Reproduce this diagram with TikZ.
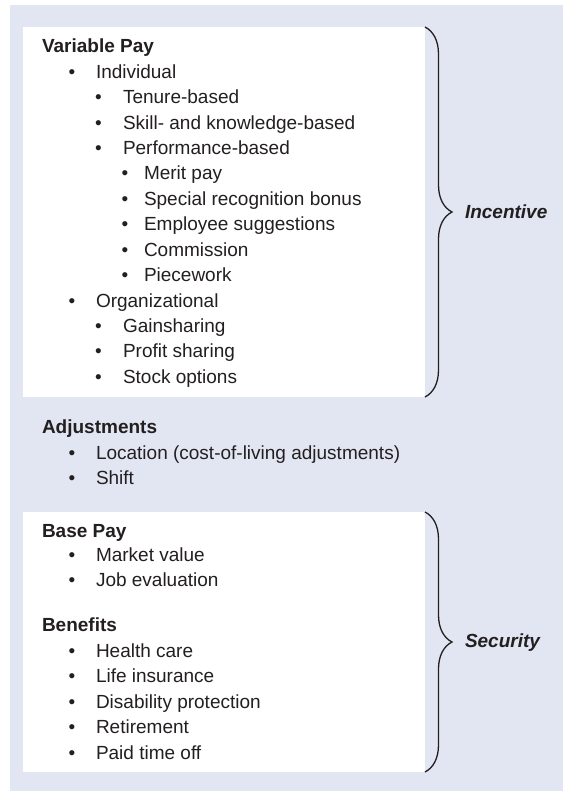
\documentclass[tikz,border=0pt]{standalone}
\usepackage{fontspec}
\setmainfont{Liberation Sans}
\usetikzlibrary{decorations.pathreplacing}
\definecolor{bgc}{HTML}{E2E6F3}
\definecolor{txt}{HTML}{231F20}
\newcommand\myentry[5]{%
  \node[bul] (#1b) at (#2,#4) {\textbullet};
  \node[itm] (#1) at (#3,#4) {#5};}
\begin{document}
\begin{tikzpicture}[x=0.5pt,y=-0.5pt,
  every node/.style={inner sep=0pt, outer sep=0pt, text=txt, font=\fontsize{9.5}{11}\selectfont},
  head/.style={anchor=base west, font=\fontsize{9.5}{11}\selectfont\bfseries},
  itm/.style={anchor=base west},
  bul/.style={anchor=base},
  tag/.style={anchor=west, font=\fontsize{9.5}{11}\selectfont\bfseries\itshape},
  panel/.style={fill=white, draw=none, minimum width=201pt},
  brc/.style={draw=txt, line width=0.65pt, decorate, decoration={brace, amplitude=13.5pt}}]
\useasboundingbox (0,0) rectangle (563,791);
\fill[bgc] (10,5) rectangle (563,791);
% panels
\node[panel, minimum height=185pt] (toppanel) at (224,212) {};
\node[panel, minimum height=130pt] (botpanel) at (224,642) {};
% braces
\draw[brc] (toppanel.north east) -- (toppanel.south east);
\draw[brc] (botpanel.north east) -- (botpanel.south east);
\node[tag] (incentive) at (465,212) {Incentive};
\node[tag] (security) at (465,643) {Security};
% Variable pay
\node[head] (vp) at (42,53) {Variable Pay};
\myentry{a1}{72}{96}{78.4}{Individual}
\myentry{a2}{98.5}{123}{103.8}{Tenure-based}
\myentry{a3}{98.5}{123}{129.2}{Skill- and knowledge-based}
\myentry{a4}{98.5}{123}{154.6}{Performance-based}
\myentry{a5}{125}{144}{180}{Merit pay}
\myentry{a6}{125}{144}{205.4}{Special recognition bonus}
\myentry{a7}{125}{144}{230.8}{Employee suggestions}
\myentry{a8}{125}{144}{256.2}{Commission}
\myentry{a9}{125}{144}{281.6}{Piecework}
\myentry{a10}{72}{96}{307}{Organizational}
\myentry{a11}{98.5}{123}{332.4}{Gainsharing}
\myentry{a12}{98.5}{123}{357.8}{Profit sharing}
\myentry{a13}{98.5}{123}{383.2}{Stock options}
% Adjustments
\node[head] (adj) at (42,433) {Adjustments};
\myentry{b1}{72}{96}{459}{Location (cost-of-living adjustments)}
\myentry{b2}{72}{96}{484}{Shift}
% Base pay
\node[head] (bp) at (42,537) {Base Pay};
\myentry{c1}{72}{96}{561.5}{Market value}
\myentry{c2}{72}{96}{586.5}{Job evaluation}
% Benefits
\node[head] (ben) at (42,631.5) {Benefits};
\myentry{d1}{72}{96}{657}{Health care}
\myentry{d2}{72}{96}{682.5}{Life insurance}
\myentry{d3}{72}{96}{708}{Disability protection}
\myentry{d4}{72}{96}{733.5}{Retirement}
\myentry{d5}{72}{96}{759}{Paid time off}
\end{tikzpicture}
\end{document}
